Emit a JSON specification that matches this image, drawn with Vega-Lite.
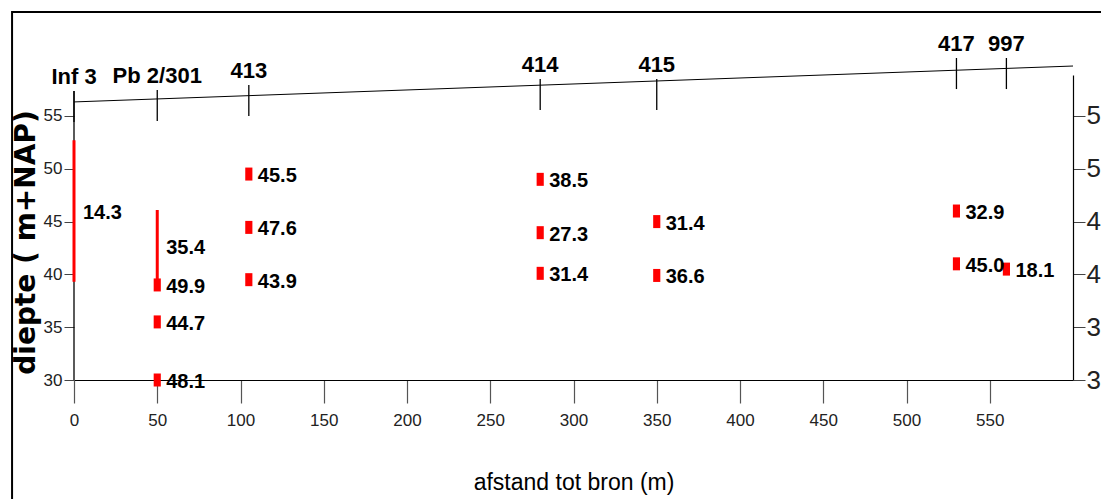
{
  "$schema": "https://vega.github.io/schema/vega-lite/v6.json",
  "width": 999,
  "height": 305,
  "autosize": {"type": "none"},
  "padding": {"left": 74, "top": 75, "right": 28, "bottom": 119},
  "background": "white",
  "config": {"view": {"stroke": null}},
  "resolve": {"axis": {"x": "independent", "y": "independent"}},
  "datasets": {
    "one": [{}],
    "wells": [
      {"name": "Inf 3", "x": 0, "top": 57.37, "bottom": 54.43},
      {"name": "Pb 2/301", "x": 50, "top": 57.46, "bottom": 54.52},
      {"name": "413", "x": 105, "top": 57.93, "bottom": 54.99},
      {"name": "414", "x": 280, "top": 58.5, "bottom": 55.56},
      {"name": "415", "x": 350, "top": 58.5, "bottom": 55.56},
      {"name": "417", "x": 530, "top": 60.49, "bottom": 57.55},
      {"name": "997", "x": 560, "top": 60.49, "bottom": 57.55}
    ],
    "surface": [
      {"x": 0, "elev": 56.33},
      {"x": 600, "elev": 59.73}
    ],
    "screens": [
      {"x": 0, "top": 52.7, "bottom": 39.3, "mid": 46.0, "value": 14.3},
      {"x": 50, "top": 46.1, "bottom": 39.2, "mid": 42.65, "value": 35.4}
    ],
    "samples": [
      {"x": 50, "depth": 39.0, "value": 49.9},
      {"x": 50, "depth": 35.5, "value": 44.7},
      {"x": 50, "depth": 30.0, "value": 48.1},
      {"x": 105, "depth": 49.5, "value": 45.5},
      {"x": 105, "depth": 44.45, "value": 47.6},
      {"x": 105, "depth": 39.5, "value": 43.9},
      {"x": 280, "depth": 49.0, "value": 38.5},
      {"x": 280, "depth": 43.95, "value": 27.3},
      {"x": 280, "depth": 40.1, "value": 31.4},
      {"x": 350, "depth": 45.0, "value": 31.4},
      {"x": 350, "depth": 39.9, "value": 36.6},
      {"x": 530, "depth": 46.0, "value": 32.9},
      {"x": 530, "depth": 41.0, "value": 45.0},
      {"x": 560, "depth": 40.5, "value": 18.1}
    ]
  },
  "layer": [
    {
      "data": {"name": "samples"},
      "mark": {"type": "point", "shape": "M-0.55,-1H0.55V1H-0.55Z", "size": 169, "filled": true, "color": "#ff0000", "opacity": 1, "strokeWidth": 0},
      "encoding": {
        "x": {
          "field": "x", "type": "quantitative",
          "scale": {"domain": [0, 600], "nice": false, "zero": false},
          "axis": {
            "orient": "bottom",
            "values": [0, 50, 100, 150, 200, 250, 300, 350, 400, 450, 500, 550],
            "domainColor": "black", "domainWidth": 1.2,
            "tickSize": 23, "tickColor": "#555", "tickWidth": 1.2,
            "labelFont": "Liberation Sans", "labelFontSize": 17, "labelColor": "#222", "labelPadding": 9,
            "labelFlush": false,
            "grid": false,
            "title": "afstand tot bron (m)",
            "titleFont": "Liberation Sans", "titleFontSize": 23, "titleFontWeight": "normal", "titleColor": "black",
            "titlePadding": 43
          }
        },
        "y": {"field": "depth", "type": "quantitative", "scale": {"domain": [30, 58.88], "nice": false, "zero": false}, "axis": null}
      }
    },
    {
      "data": {"name": "one"},
      "mark": {"type": "rect", "fill": null, "stroke": "black", "strokeWidth": 2, "filled": false},
      "encoding": {
        "x": {"datum": -37.2, "type": "quantitative", "axis": null},
        "x2": {"datum": 700},
        "y": {"datum": 64.85, "type": "quantitative", "axis": null},
        "y2": {"datum": 16.0}
      }
    },
    {
      "data": {"name": "surface"},
      "mark": {"type": "line", "color": "black", "strokeWidth": 1},
      "encoding": {
        "x": {"field": "x", "type": "quantitative", "axis": null},
        "y": {
          "field": "elev", "type": "quantitative",
          "axis": {
            "orient": "right",
            "values": [30, 35, 40, 45, 50, 55],
            "domainColor": "black", "domainWidth": 1.2,
            "tickSize": 12, "tickColor": "#444",
            "labelFont": "Liberation Sans", "labelFontSize": 26, "labelColor": "#222", "labelPadding": 1,
            "grid": false, "title": null
          }
        }
      }
    },
    {
      "data": {"name": "wells"},
      "mark": {"type": "rule", "color": "black", "strokeWidth": 1.3},
      "encoding": {
        "x": {"field": "x", "type": "quantitative", "axis": null},
        "y": {
          "field": "top", "type": "quantitative",
          "axis": {
            "orient": "left",
            "values": [30, 35, 40, 45, 50, 55],
            "domain": false,
            "tickSize": 10, "tickColor": "#444",
            "labelFont": "Liberation Sans", "labelFontSize": 17, "labelColor": "#222", "labelPadding": 2,
            "grid": false,
            "title": "diepte ( m+NAP)",
            "titleFont": "DejaVu Sans", "titleFontSize": 28, "titleFontWeight": "bold", "titleColor": "black",
            "titleAngle": 270, "titleAlign": "center", "titleBaseline": "middle",
            "titleX": -48, "titleY": 167
          }
        },
        "y2": {"field": "bottom"}
      }
    },
    {
      "data": {"name": "wells"},
      "mark": {"type": "text", "font": "Liberation Sans", "fontWeight": "bold", "fontSize": 22, "align": "center", "baseline": "alphabetic", "dy": -7, "color": "black"},
      "encoding": {
        "x": {"field": "x", "type": "quantitative", "axis": null},
        "y": {"field": "top", "type": "quantitative", "axis": null},
        "text": {"field": "name"}
      }
    },
    {
      "data": {"name": "one"},
      "mark": {"type": "rule", "color": "black", "strokeWidth": 1.3},
      "encoding": {
        "x": {"datum": 0, "type": "quantitative", "axis": null},
        "y": {"datum": 30, "type": "quantitative", "axis": null},
        "y2": {"datum": 57.37}
      }
    },
    {
      "data": {"name": "screens"},
      "mark": {"type": "rule", "color": "#ff0000", "strokeWidth": 3},
      "encoding": {
        "x": {"field": "x", "type": "quantitative", "axis": null},
        "y": {"field": "top", "type": "quantitative", "axis": null},
        "y2": {"field": "bottom"}
      }
    },
    {
      "data": {"name": "screens"},
      "mark": {"type": "text", "font": "Liberation Sans", "fontWeight": "bold", "fontSize": 20, "align": "left", "baseline": "middle", "dx": 9, "dy": 2, "color": "black"},
      "encoding": {
        "x": {"field": "x", "type": "quantitative", "axis": null},
        "y": {"field": "mid", "type": "quantitative", "axis": null},
        "text": {"field": "value", "type": "quantitative", "format": ".1f"}
      }
    },
    {
      "data": {"name": "samples"},
      "mark": {"type": "text", "font": "Liberation Sans", "fontWeight": "bold", "fontSize": 20, "align": "left", "baseline": "middle", "dx": 9, "dy": 2, "color": "black"},
      "encoding": {
        "x": {"field": "x", "type": "quantitative", "axis": null},
        "y": {"field": "depth", "type": "quantitative", "axis": null},
        "text": {"field": "value", "type": "quantitative", "format": ".1f"}
      }
    }
  ]
}
